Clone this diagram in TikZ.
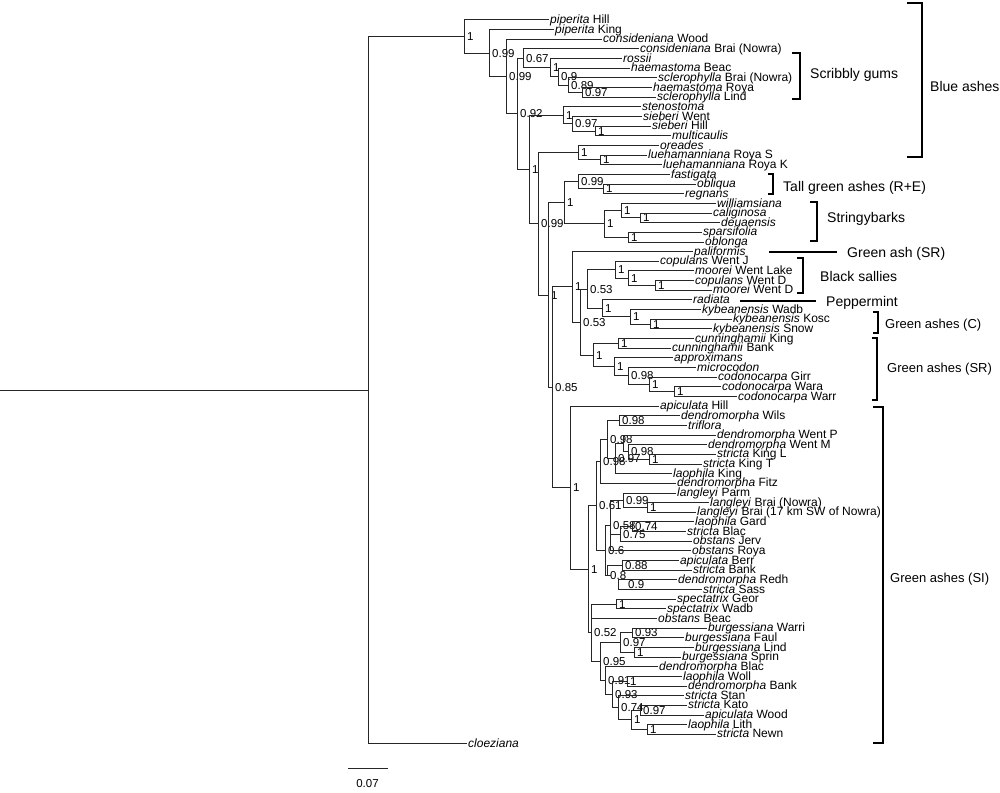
\documentclass[tikz,border=0pt]{standalone}
\usepackage{fontspec}
\setmainfont{Liberation Sans}
\usetikzlibrary{calc}
\newcommand\leafnode[4]{%
  \coordinate (#1) at ({#3-1.5},{20+(#2-1)*9.653});
  \node[leaflab] (#1l) at ([xshift=1.5pt,yshift=-3.6pt]#1) {#4};}
\newcommand\treenode[5]{%
  \coordinate (#1m) at ($(#3)!0.5!(#4)$);
  \path let \p1=(#1m) in coordinate (#1) at (#2pt,\y1);
  \node[blab] (#1b) at ([xshift=3pt,yshift=-4pt]#1) {#5};}
\newcommand\tedges[2]{\foreach \kid in {#2} {\draw[br] (#1) |- (\kid);}}
\begin{document}
\begin{tikzpicture}[x=1pt,y=-1pt,
  br/.style={draw=black!85, line width=1pt, line cap=rect},
  leaflab/.style={anchor=base west, inner sep=0pt, font=\fontsize{12}{12}\selectfont},
  blab/.style={anchor=base west, inner sep=0pt, font=\fontsize{11.5}{12}\selectfont},
  grp/.style={anchor=base west, inner sep=0pt, font=\fontsize{14}{14}\selectfont},
  grps/.style={anchor=base west, inner sep=0pt, font=\fontsize{13}{13}\selectfont},
  brk/.style={draw=black, line width=1.3pt}]
\useasboundingbox (0,0) rectangle (1000,792);
% leaves
\leafnode{t1}{1}{550}{\textit{piperita} Hill}
\leafnode{t2}{2}{555}{\textit{piperita} King}
\leafnode{t3}{3}{603}{\textit{consideniana} Wood}
\leafnode{t4}{4}{640}{\textit{consideniana} Brai (Nowra)}
\leafnode{t5}{5}{623}{\textit{rossii}}
\leafnode{t6}{6}{631}{\textit{haemastoma} Beac}
\leafnode{t7}{7}{658}{\textit{sclerophylla} Brai (Nowra)}
\leafnode{t8}{8}{653}{\textit{haemastoma} Roya}
\leafnode{t9}{9}{657}{\textit{sclerophylla} Lind}
\leafnode{t10}{10}{642}{\textit{stenostoma}}
\leafnode{t11}{11}{643}{\textit{sieberi} Went}
\leafnode{t12}{12}{652}{\textit{sieberi} Hill}
\leafnode{t13}{13}{672}{\textit{multicaulis}}
\leafnode{t14}{14}{660}{\textit{oreades}}
\leafnode{t15}{15}{648}{\textit{luehamanniana} Roya S}
\leafnode{t16}{16}{663}{\textit{luehamanniana} Roya K}
\leafnode{t17}{17}{671}{\textit{fastigata}}
\leafnode{t18}{18}{697}{\textit{obliqua}}
\leafnode{t19}{19}{685}{\textit{regnans}}
\leafnode{t20}{20}{717}{\textit{williamsiana}}
\leafnode{t21}{21}{713}{\textit{caliginosa}}
\leafnode{t22}{22}{721}{\textit{deuaensis}}
\leafnode{t23}{23}{703}{\textit{sparsifolia}}
\leafnode{t24}{24}{705}{\textit{oblonga}}
\leafnode{t25}{25}{694}{\textit{paliformis}}
\leafnode{t26}{26}{660}{\textit{copulans} Went J}
\leafnode{t27}{27}{695}{\textit{moorei} Went Lake}
\leafnode{t28}{28}{695}{\textit{copulans} Went D}
\leafnode{t29}{29}{713}{\textit{moorei} Went D}
\leafnode{t30}{30}{693}{\textit{radiata}}
\leafnode{t31}{31}{702}{\textit{kybeanensis} Wadb}
\leafnode{t32}{32}{733}{\textit{kybeanensis} Kosc}
\leafnode{t33}{33}{713}{\textit{kybeanensis} Snow}
\leafnode{t34}{34}{695}{\textit{cunninghamii} King}
\leafnode{t35}{35}{672}{\textit{cunninghamii} Bank}
\leafnode{t36}{36}{674}{\textit{approximans}}
\leafnode{t37}{37}{697}{\textit{microcodon}}
\leafnode{t38}{38}{718}{\textit{codonocarpa} Girr}
\leafnode{t39}{39}{722}{\textit{codonocarpa} Wara}
\leafnode{t40}{40}{738}{\textit{codonocarpa} Warr}
\leafnode{t41}{41}{660}{\textit{apiculata} Hill}
\leafnode{t42}{42}{681}{\textit{dendromorpha} Wils}
\leafnode{t43}{43}{688}{\textit{triflora}}
\leafnode{t44}{44}{717}{\textit{dendromorpha} Went P}
\leafnode{t45}{45}{708}{\textit{dendromorpha} Went M}
\leafnode{t46}{46}{717}{\textit{stricta} King L}
\leafnode{t47}{47}{703}{\textit{stricta} King T}
\leafnode{t48}{48}{673}{\textit{laophila} King}
\leafnode{t49}{49}{677}{\textit{dendromorpha} Fitz}
\leafnode{t50}{50}{677}{\textit{langleyi} Parm}
\leafnode{t51}{51}{710}{\textit{langleyi} Brai (Nowra)}
\leafnode{t52}{52}{697}{\textit{langleyi} Brai (17 km SW of Nowra)}
\leafnode{t53}{53}{695}{\textit{laophila} Gard}
\leafnode{t54}{54}{687}{\textit{stricta} Blac}
\leafnode{t55}{55}{693}{\textit{obstans} Jerv}
\leafnode{t56}{56}{692}{\textit{obstans} Roya}
\leafnode{t57}{57}{680}{\textit{apiculata} Berr}
\leafnode{t58}{58}{693}{\textit{stricta} Bank}
\leafnode{t59}{59}{678}{\textit{dendromorpha} Redh}
\leafnode{t60}{60}{703}{\textit{stricta} Sass}
\leafnode{t61}{61}{677}{\textit{spectatrix} Geor}
\leafnode{t62}{62}{667}{\textit{spectatrix} Wadb}
\leafnode{t63}{63}{658}{\textit{obstans} Beac}
\leafnode{t64}{64}{708}{\textit{burgessiana} Warri}
\leafnode{t65}{65}{685}{\textit{burgessiana} Faul}
\leafnode{t66}{66}{695}{\textit{burgessiana} Lind}
\leafnode{t67}{67}{682}{\textit{burgessiana} Sprin}
\leafnode{t68}{68}{659}{\textit{dendromorpha} Blac}
\leafnode{t69}{69}{683}{\textit{laophila} Woll}
\leafnode{t70}{70}{688}{\textit{dendromorpha} Bank}
\leafnode{t71}{71}{685}{\textit{stricta} Stan}
\leafnode{t72}{72}{688}{\textit{stricta} Kato}
\leafnode{t73}{73}{705}{\textit{apiculata} Wood}
\leafnode{t74}{74}{688}{\textit{laophila} Lith}
\leafnode{t75}{75}{717}{\textit{stricta} Newn}
\leafnode{t76}{76}{468}{\textit{cloeziana}}
% internal nodes (bottom-up)
\treenode{SG4}{582}{t8}{t9}{0.97}
\treenode{SG3}{568}{t7}{SG4}{0.89}
\treenode{SG2}{558}{t6}{SG3}{0.9}
\treenode{SG1}{550}{t5}{SG2}{1}
\treenode{SG0}{523}{t4}{SG1}{0.67}
\treenode{F2}{595}{t12}{t13}{1}
\treenode{F1}{572}{t11}{F2}{0.97}
\treenode{F}{563}{t10}{F1}{1}
\treenode{H1}{600}{t15}{t16}{1}
\treenode{H}{578}{t14}{H1}{1}
\treenode{L1}{603}{t18}{t19}{1}
\treenode{L}{578}{t17}{L1}{0.99}
\treenode{M2}{640}{t21}{t22}{1}
\treenode{M1}{621}{t20}{M2}{1}
\treenode{M3}{628}{t23}{t24}{1}
\treenode{M}{604}{M1}{M3}{1}
\treenode{J}{564}{L}{M}{1}
\treenode{BS2}{655}{t28}{t29}{1}
\treenode{BS1}{628}{t27}{BS2}{1}
\treenode{BS}{615}{t26}{BS1}{1}
\treenode{RK2}{650}{t32}{t33}{1}
\treenode{RK1}{630}{t31}{RK2}{1}
\treenode{RK}{602}{t30}{RK1}{1}
\treenode{X}{587}{BS}{RK}{0.53}
\treenode{CG5}{674}{t39}{t40}{1}
\treenode{CG4}{649}{t38}{CG5}{1}
\treenode{CG3}{628}{t37}{CG4}{0.98}
\treenode{CG2}{614}{t36}{CG3}{1}
\treenode{CG1}{618}{t34}{t35}{1}
\treenode{CG}{593}{CG1}{CG2}{1}
\treenode{Y}{580}{X}{CG}{0.53}
\treenode{P}{572}{t25}{Y}{1}
\treenode{N5}{649}{t46}{t47}{1}
\treenode{N4}{628}{t45}{N5}{0.98}
\treenode{N3}{623}{t44}{N4}{}
\treenode{N2}{615}{N3}{t48}{0.97}
\treenode{N1a}{619}{t42}{t43}{0.98}
\treenode{N1}{607}{N1a}{N2}{0.98}
\treenode{N0}{600}{N1}{t49}{0.98}
\treenode{LA1}{647}{t51}{t52}{1}
\treenode{LA}{623}{t50}{LA1}{0.99}
\treenode{L74}{632}{t53}{t54}{0.74}
\treenode{L75}{620}{L74}{t55}{0.75}
\treenode{L58}{610}{LA}{t56}{0.58}
\treenode{A3a}{622}{t57}{t58}{0.88}
\treenode{A3b}{625}{t59}{t60}{0.9}
\treenode{A3}{607}{A3a}{A3b}{0.8}
\treenode{L0}{605}{L58}{A3}{0.6}
\treenode{S}{596}{N0}{L0}{0.61}
\treenode{Tsp}{616}{t61}{t62}{1}
\treenode{BUR1}{632}{t64}{t65}{0.93}
\treenode{BUR2}{634}{t66}{t67}{1}
\treenode{BUR}{620}{BUR1}{BUR2}{0.97}
\treenode{N69}{627}{t69}{t70}{1}
\treenode{W1}{640}{t72}{t73}{0.97}
\treenode{W2}{647}{t74}{t75}{1}
\treenode{W}{631}{W1}{W2}{1}
\treenode{Y2}{618}{t71}{W}{0.74}
\treenode{Z}{612}{N69}{Y2}{0.93}
\treenode{REST}{605}{t68}{Z}{0.91}
\treenode{BIG}{600}{BUR}{REST}{0.95}
\treenode{T}{591}{Tsp}{BIG}{0.52}
\treenode{R}{588}{S}{T}{1}
\treenode{Q}{570}{t41}{R}{1}
\treenode{K}{552}{P}{Q}{0.85}
\treenode{I}{548}{J}{K}{1}
\treenode{G}{538}{H}{I}{0.99}
\treenode{E}{529}{F}{G}{1}
\treenode{D}{517}{SG0}{E}{0.92}
\treenode{C}{506}{t3}{D}{0.99}
\treenode{B}{489}{t2}{C}{0.99}
\treenode{A}{464}{t1}{B}{1}
\treenode{root}{368}{A}{t76}{}
\path let \p1=(root) in coordinate (root0) at (0pt,\y1);
% connectors
\draw[br] (root0) -- (root);
\tedges{root}{A,t76}
\tedges{A}{t1,B}
\tedges{B}{t2,C}
\tedges{C}{t3,D}
\tedges{D}{SG0,E}
\tedges{SG0}{t4,SG1}
\tedges{SG1}{t5,SG2}
\tedges{SG2}{t6,SG3}
\tedges{SG3}{t7,SG4}
\tedges{SG4}{t8,t9}
\tedges{E}{F,G}
\tedges{F}{t10,F1}
\tedges{F1}{t11,F2}
\tedges{F2}{t12,t13}
\tedges{G}{H,I}
\tedges{H}{t14,H1}
\tedges{H1}{t15,t16}
\tedges{I}{J,K}
\tedges{J}{L,M}
\tedges{L}{t17,L1}
\tedges{L1}{t18,t19}
\tedges{M}{M1,M3}
\tedges{M1}{t20,M2}
\tedges{M2}{t21,t22}
\tedges{M3}{t23,t24}
\tedges{K}{P,Q}
\tedges{P}{t25,Y}
\tedges{Y}{X,CG}
\tedges{X}{BS,RK}
\tedges{BS}{t26,BS1}
\tedges{BS1}{t27,BS2}
\tedges{BS2}{t28,t29}
\tedges{RK}{t30,RK1}
\tedges{RK1}{t31,RK2}
\tedges{RK2}{t32,t33}
\tedges{CG}{CG1,CG2}
\tedges{CG1}{t34,t35}
\tedges{CG2}{t36,CG3}
\tedges{CG3}{t37,CG4}
\tedges{CG4}{t38,CG5}
\tedges{CG5}{t39,t40}
\tedges{Q}{t41,R}
\tedges{R}{S,T}
\tedges{S}{N0,L0}
\tedges{N0}{N1,t49}
\tedges{N1}{N1a,N2}
\tedges{N1a}{t42,t43}
\tedges{N2}{N3,t48}
\tedges{N3}{t44,N4}
\tedges{N4}{t45,N5}
\tedges{N5}{t46,t47}
\tedges{L0}{L58,A3}
\tedges{L58}{LA,L75,t56}
\tedges{LA}{t50,LA1}
\tedges{LA1}{t51,t52}
\tedges{L75}{L74,t55}
\tedges{L74}{t53,t54}
\tedges{A3}{A3a,A3b}
\tedges{A3a}{t57,t58}
\tedges{A3b}{t59,t60}
\tedges{T}{Tsp,t63,BIG}
\tedges{Tsp}{t61,t62}
\tedges{BIG}{BUR,REST}
\tedges{BUR}{BUR1,BUR2}
\tedges{BUR1}{t64,t65}
\tedges{BUR2}{t66,t67}
\tedges{REST}{t68,Z}
\tedges{Z}{N69,Y2}
\tedges{N69}{t69,t70}
\tedges{Y2}{t71,W}
\tedges{W}{W1,W2}
\tedges{W1}{t72,t73}
\tedges{W2}{t74,t75}
% group brackets and labels
\draw[brk] (907,3) -- (922,3) -- (922,157) -- (907,157);
\node[grp] (gBA) at (930,91) {Blue ashes};
\draw[brk] (792,53) -- (800,53) -- (800,99) -- (792,99);
\node[grp] (gSG) at (810,78) {Scribbly gums};
\draw[brk] (768,174) -- (773,174) -- (773,194) -- (768,194);
\node[grp] (gTG) at (783,191) {Tall green ashes (R+E)};
\draw[brk] (810,202) -- (817,202) -- (817,241) -- (810,241);
\node[grp] (gSB) at (827,222) {Stringybarks};
\draw[brk] (769,252) -- (837,252);
\node[grp] (gGA) at (847,257) {Green ash (SR)};
\draw[brk] (797,258) -- (803,258) -- (803,293) -- (797,293);
\node[grp] (gBS) at (820,281) {Black sallies};
\draw[brk] (740,301) -- (816,301);
\node[grp] (gPM) at (826,306) {Peppermint};
\draw[brk] (873,312) -- (878,312) -- (878,333) -- (873,333);
\node[grps] (gGC) at (885,328) {Green ashes (C)};
\draw[brk] (872,338) -- (877,338) -- (877,400) -- (872,400);
\node[grps] (gGSR) at (887,372) {Green ashes (SR)};
\draw[brk] (873,407) -- (883,407) -- (883,743) -- (873,743);
\node[grps] (gGSI) at (890,582) {Green ashes (SI)};
% scale bar
\coordinate (sb1) at (348,768);
\coordinate (sb2) at (387,768);
\draw[br] (sb1) -- (sb2);
\node[blab, anchor=base] (sbl) at (367.5,787) {0.07};
\end{tikzpicture}
\end{document}
